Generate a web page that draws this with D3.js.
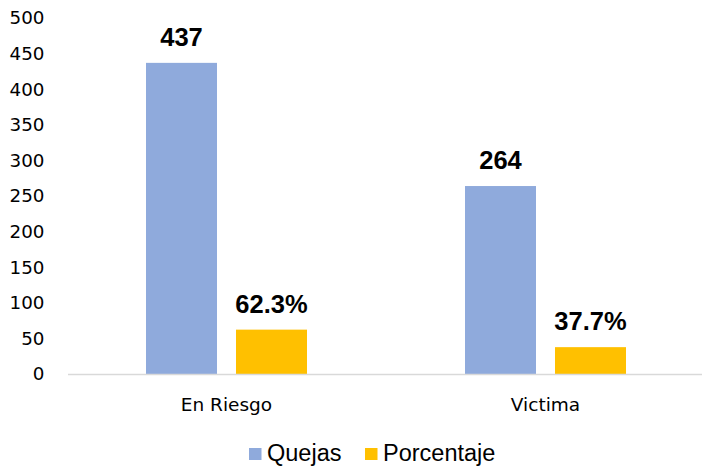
<!DOCTYPE html>
<html>
<head>
<meta charset="utf-8">
<title>Quejas por categoría</title>
<script src="https://cdn.jsdelivr.net/npm/d3@7"></script>
<style>
body { margin: 0; background: #fff; }
svg { display: block; }
</style>
</head>
<body>
<div id="chart"></div>
<script>
const categories = ["En Riesgo", "Victima"];
const series = ["Quejas", "Porcentaje"];
const quejas = [437, 264];
const porcentaje = [62.3, 37.7];
const labels = [["437", "62.3%"], ["264", "37.7%"]];
const yTicks = [0, 50, 100, 150, 200, 250, 300, 350, 400, 450, 500];
const colors = ["#8faadc", "#ffc000"];

const width = 702, height = 466;
const margin = {top: 18, left: 67, right: -3, bottom: 92};

const svg = d3.select("#chart").append("svg")
    .attr("width", width)
    .attr("height", height);

const y = d3.scaleLinear()
    .domain([0, 500])
    .range([height - margin.bottom, margin.top]);

const x0 = d3.scaleBand()
    .domain(categories)
    .range([margin.left, width - margin.right]);

const x1 = d3.scaleBand()
    .domain(series)
    .range([x0.bandwidth() / 2 - 80.5, x0.bandwidth() / 2 + 80.5])
    .paddingInner(0.211);

// y axis labels
svg.append("g")
  .selectAll("text")
  .data(yTicks)
  .join("text")
    .attr("x", 44.5)
    .attr("y", d => y(d))
    .attr("dy", "0.35em")
    .attr("text-anchor", "end")
    .attr("font-family", "DejaVu Sans, sans-serif")
    .attr("font-size", 18.3)
    .attr("fill", "#000")
    .text(d => d);

const rows = categories.map((c, i) => ({
  cat: c,
  vals: [quejas[i], porcentaje[i]],
  labels: labels[i]
}));

const groups = svg.append("g")
  .selectAll("g")
  .data(rows)
  .join("g")
    .attr("transform", d => `translate(${x0(d.cat)},0)`);

groups.selectAll("rect")
  .data(d => d.vals.map((v, j) => ({s: series[j], v: v, j: j})))
  .join("rect")
    .attr("x", d => x1(d.s))
    .attr("y", d => y(d.v))
    .attr("width", x1.bandwidth())
    .attr("height", d => y(0) - y(d.v))
    .attr("fill", d => colors[d.j]);

groups.selectAll("text.lbl")
  .data(d => d.vals.map((v, j) => ({s: series[j], v: v, t: d.labels[j]})))
  .join("text")
    .attr("class", "lbl")
    .attr("x", d => x1(d.s) + x1.bandwidth() / 2)
    .attr("y", d => y(d.v) - 17)
    .attr("text-anchor", "middle")
    .attr("font-family", "Liberation Sans, Arial, sans-serif")
    .attr("font-weight", "bold")
    .attr("font-size", 25.5)
    .attr("fill", "#000")
    .text(d => d.t);

// baseline
svg.append("line")
    .attr("x1", 68)
    .attr("x2", width)
    .attr("y1", y(0) + 0.5)
    .attr("y2", y(0) + 0.5)
    .attr("stroke", "#d9d9d9")
    .attr("stroke-width", 1.5);

// category labels
svg.append("g")
  .selectAll("text")
  .data(categories)
  .join("text")
    .attr("x", d => x0(d) + x0.bandwidth() / 2)
    .attr("y", 411)
    .attr("text-anchor", "middle")
    .attr("font-family", "DejaVu Sans, sans-serif")
    .attr("font-size", 18.5)
    .attr("fill", "#000")
    .text(d => d);

// legend
const legendX = [249, 365];
const legend = svg.append("g")
  .selectAll("g")
  .data(series)
  .join("g")
    .attr("transform", (d, i) => `translate(${legendX[i]},448)`);

legend.append("rect")
    .attr("width", 12.5)
    .attr("height", 12)
    .attr("fill", (d, i) => colors[i]);

legend.append("text")
    .attr("x", 18)
    .attr("y", 13)
    .attr("font-family", "Liberation Sans, Arial, sans-serif")
    .attr("font-size", 23.5)
    .attr("fill", "#000")
    .text(d => d);
</script>
</body>
</html>
